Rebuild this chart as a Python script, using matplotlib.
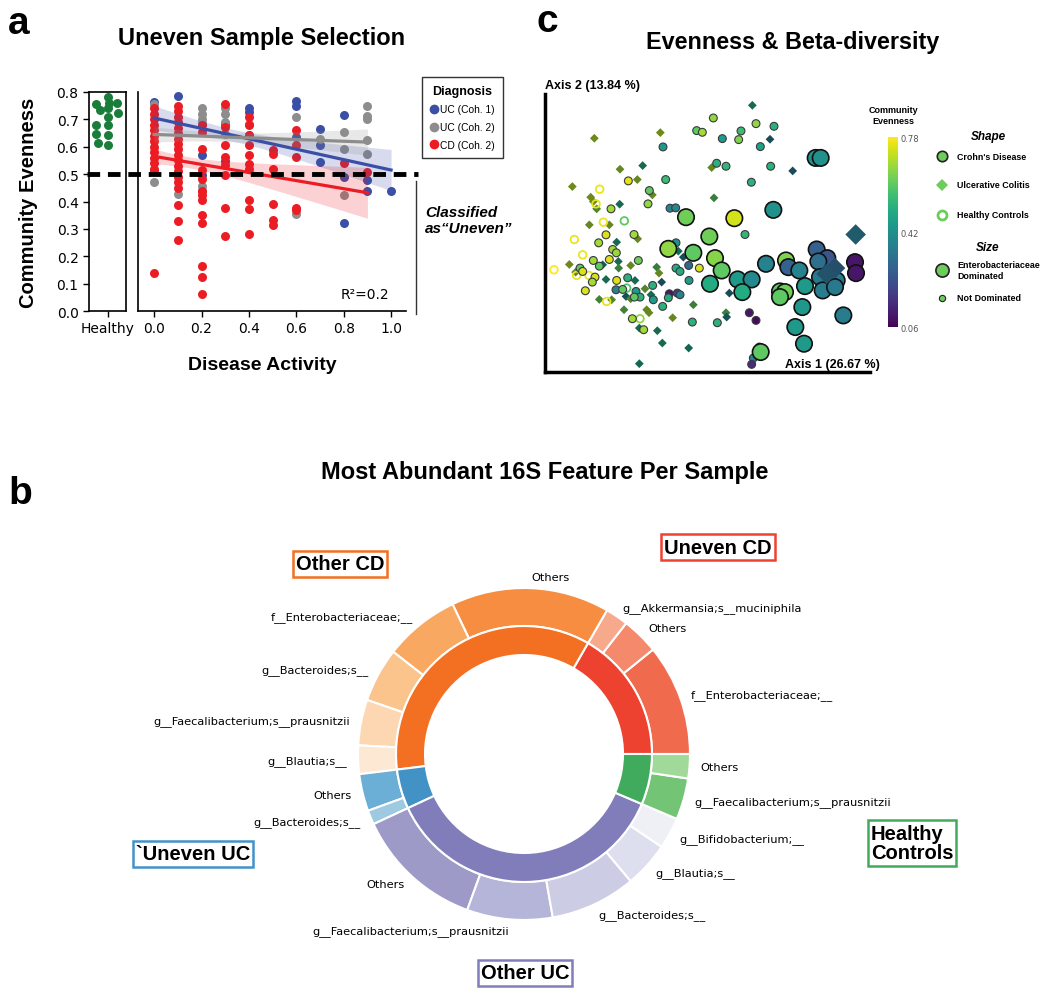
import numpy as np
import matplotlib
matplotlib.use('Agg')
import matplotlib.pyplot as plt
from matplotlib.lines import Line2D
from matplotlib.colors import Normalize
import matplotlib.cm as cm

# ---------------- panel a data ----------------
uc1_da = [0.0, 0.1, 0.2, 0.2, 0.3, 0.3, 0.4, 0.4, 0.6, 0.6, 0.6, 0.7, 0.7, 0.7, 0.8, 0.8, 0.8, 0.9, 0.9, 1.0]
uc1_even = [0.765, 0.785, 0.571, 0.496, 0.684, 0.548, 0.742, 0.727, 0.766, 0.749, 0.636, 0.666, 0.605, 0.544,
            0.715, 0.489, 0.323, 0.477, 0.437, 0.437]
uc2_da = [0.0, 0.0, 0.1, 0.2, 0.2, 0.2, 0.2, 0.2, 0.2, 0.3, 0.3, 0.3, 0.3, 0.4, 0.4, 0.6, 0.6, 0.7,
          0.8, 0.8, 0.8, 0.9, 0.9, 0.9, 0.9, 0.9]
uc2_even = [0.757, 0.47, 0.428, 0.742, 0.72, 0.70, 0.685, 0.455, 0.44, 0.74, 0.72, 0.69, 0.648, 0.684, 0.644,
            0.709, 0.356, 0.63, 0.654, 0.593, 0.423, 0.749, 0.712, 0.703, 0.623, 0.575]
cd2_da = [0.0] * 14 + [0.1] * 19 + [0.2] * 13 + [0.3] * 8 + [0.4] * 10 + [0.5] * 6 + [0.6] * 5 + [0.8, 0.9]
cd2_even = [0.74, 0.72, 0.70, 0.68, 0.66, 0.64, 0.62, 0.60, 0.58, 0.56, 0.54, 0.52, 0.51, 0.14,
            0.75, 0.73, 0.71, 0.69, 0.67, 0.65, 0.63, 0.61, 0.59, 0.57, 0.55, 0.53, 0.51, 0.49, 0.47, 0.45,
            0.386, 0.328, 0.258,
            0.678, 0.654, 0.593, 0.514, 0.483, 0.44, 0.425, 0.404, 0.352, 0.321, 0.163, 0.124, 0.063,
            0.757, 0.672, 0.605, 0.562, 0.532, 0.496, 0.376, 0.274,
            0.709, 0.678, 0.642, 0.605, 0.569, 0.538, 0.52, 0.404, 0.371, 0.281,
            0.587, 0.575, 0.52, 0.39, 0.331, 0.313,
            0.662, 0.605, 0.561, 0.376, 0.368,
            0.541, 0.508]
healthy_jitter = [-0.3, 0.02, 0.26, 0.29, -0.2, 0.0, 0.0, -0.3, 0.02, -0.32, 0.0, -0.25, 0.0, 0.05]
healthy_even = [0.757, 0.78, 0.76, 0.725, 0.733, 0.74, 0.71, 0.681, 0.678, 0.648, 0.644, 0.614, 0.605, 0.76]

# regression fits (value at DA=0, value at last DA, CI half widths)
fit_names = ['UC (Coh. 1)', 'UC (Coh. 2)', 'CD (Coh. 2)']
fit_start = [0.705, 0.645, 0.565]
fit_stop = [0.515, 0.617, 0.432]
fit_xmax = [1.0, 0.9, 0.9]
ci_min = [0.022, 0.016, 0.02]
ci_xmin = [0.35, 0.3, 0.15]
ci_end = [0.075, 0.048, 0.093]

# ---------------- panel c data ----------------
cd_small_pc1 = [0.038, 0.055, -0.063, -0.167, -0.055, -0.104, -0.219, -0.108, -0.042, -0.025, -0.234, -0.15,
                0.088, 0.216, 0.27, 0.171, 0.115, 0.164, 0.229, 0.098, 0.126, 0.26, 0.202, 0.183, -0.256,
                -0.214, -0.203, -0.024, -0.272, -0.224, -0.137, -0.312, -0.304, -0.254, -0.024, -0.012, 0.014,
                0.046, -0.267, -0.275, -0.202, -0.169, 0.015, -0.296, -0.204, -0.184, -0.144, -0.132, -0.149,
                -0.094, -0.092, -0.044, -0.02, -0.047, -0.012, -0.064, -0.155, 0.025, -0.121, 0.1, 0.196, 0.216,
                0.226, 0.236, 0.208, 0.203]
cd_small_pc2 = [0.307, 0.302, 0.258, 0.156, 0.16, 0.127, 0.072, 0.087, 0.074, 0.075, -0.006, -0.005, 0.345,
                0.328, 0.32, 0.306, 0.283, 0.28, 0.259, 0.209, 0.2, 0.2, 0.152, -0.005, -0.03, -0.05, -0.06,
                -0.03, -0.083, -0.08, -0.083, -0.106, -0.116, -0.1, -0.106, -0.116, -0.098, -0.106, -0.133,
                -0.148, -0.143, -0.135, -0.143, -0.174, -0.171, -0.17, -0.176, -0.193, -0.193, -0.158, -0.201,
                -0.183, -0.181, -0.195, -0.186, -0.221, -0.258, -0.268, -0.291, -0.27, -0.24, -0.263, -0.343,
                -0.356, -0.376, -0.395]
cd_small_even = [0.6, 0.68, 0.45, 0.75, 0.55, 0.6, 0.68, 0.66, 0.38, 0.4, 0.74, 0.68, 0.66, 0.66, 0.52, 0.55,
                 0.45, 0.64, 0.47, 0.52, 0.53, 0.52, 0.52, 0.53, 0.68, 0.68, 0.67, 0.42, 0.68, 0.74, 0.62, 0.6,
                 0.74, 0.6, 0.5, 0.5, 0.3, 0.74, 0.73, 0.68, 0.74, 0.52, 0.45, 0.74, 0.38, 0.6, 0.45, 0.52, 0.6,
                 0.52, 0.45, 0.1, 0.2, 0.5, 0.38, 0.52, 0.68, 0.52, 0.68, 0.52, 0.1, 0.08, 0.52, 0.3, 0.38, 0.15]
cd_big_pc1 = [0.006, 0.395, 0.41, 0.268, 0.151, 0.076, -0.047, 0.028, 0.078, 0.093, 0.113, 0.161, 0.203, 0.175,
              0.246, 0.306, 0.313, 0.346, 0.288, 0.303, 0.288, 0.363, 0.355, 0.334, 0.36, 0.398, 0.43, 0.403,
              0.408, 0.458, 0.416, 0.453, 0.513, 0.516, 0.478, 0.23]
cd_big_pc2 = [0.047, 0.225, 0.225, 0.069, 0.044, -0.011, -0.048, -0.06, -0.153, -0.076, -0.113, -0.14, -0.14,
              -0.178, -0.093, -0.083, -0.103, -0.113, -0.176, -0.178, -0.193, -0.16, -0.223, -0.283, -0.333,
              -0.05, -0.076, -0.086, -0.133, -0.143, -0.173, -0.163, -0.088, -0.121, -0.248, -0.358]
cd_big_even = [0.62, 0.42, 0.42, 0.42, 0.73, 0.62, 0.66, 0.6, 0.5, 0.65, 0.6, 0.45, 0.4, 0.5, 0.38, 0.64, 0.28,
               0.38, 0.6, 0.62, 0.6, 0.45, 0.44, 0.45, 0.45, 0.28, 0.25, 0.32, 0.35, 0.35, 0.36, 0.35, 0.1, 0.1,
               0.36, 0.6]
uc_small_pc1 = [-0.269, -0.071, -0.192, -0.124, -0.14, -0.335, -0.095, -0.28, -0.272, -0.262, -0.193, -0.284,
                -0.224, 0.205, 0.258, 0.083, 0.326, 0.09, -0.139, -0.202, -0.017, -0.002, -0.197, -0.344,
                -0.325, -0.244, -0.196, -0.16, -0.082, -0.075, -0.234, -0.147, -0.067, -0.117, -0.174, -0.16,
                -0.099, -0.254, -0.217, 0.028, -0.18, -0.112, -0.105, -0.034, -0.134, -0.08, -0.065, 0.014,
                -0.134, 0.136, 0.126, 0.128]
uc_small_pc2 = [0.284, 0.301, 0.191, 0.202, 0.16, 0.139, 0.114, 0.107, 0.094, 0.072, 0.086, 0.024, 0.024, 0.383,
                0.281, 0.196, 0.186, 0.105, -0.018, -0.028, -0.055, -0.073, -0.086, -0.095, -0.118, -0.096,
                -0.106, -0.098, -0.103, -0.121, -0.14, -0.143, -0.148, -0.168, -0.191, -0.198, -0.186, -0.2,
                -0.201, -0.216, -0.231, -0.231, -0.24, -0.255, -0.286, -0.294, -0.331, -0.346, -0.393, -0.181,
                -0.24, -0.253]
uc_small_even = [0.7, 0.7, 0.68, 0.5, 0.68, 0.7, 0.68, 0.7, 0.7, 0.65, 0.5, 0.68, 0.68, 0.5, 0.35, 0.68, 0.35,
                 0.6, 0.68, 0.5, 0.5, 0.35, 0.5, 0.7, 0.68, 0.45, 0.6, 0.68, 0.6, 0.68, 0.5, 0.5, 0.35, 0.65,
                 0.38, 0.65, 0.5, 0.62, 0.65, 0.6, 0.62, 0.68, 0.68, 0.68, 0.5, 0.5, 0.5, 0.48, 0.48, 0.35, 0.6,
                 0.38]
uc_big_pc1 = [0.515, 0.453, 0.428]
uc_big_pc2 = [-0.005, -0.106, -0.123]
uc_big_even = [0.35, 0.3, 0.32]
hc_pc1 = [-0.253, -0.264, -0.242, -0.179, -0.329, -0.304, -0.39, -0.322, -0.285, -0.172, -0.232, -0.132]
hc_pc2 = [0.131, 0.087, 0.032, 0.036, -0.02, -0.066, -0.111, -0.128, -0.128, -0.166, -0.206, -0.258]
hc_even = [0.76, 0.75, 0.76, 0.6, 0.76, 0.76, 0.78, 0.76, 0.76, 0.58, 0.75, 0.66]

# ---------------- panel b data ----------------
group_names = ['Uneven CD', 'Other CD', '`Uneven UC', 'Other UC', 'Healthy\nControls']
group_sizes = [60, 127, 18, 132, 23]
group_colors = ['#ee4231', '#f36f21', '#4292c6', '#807dba', '#41ab5d']
feature_labels = ['f__Enterobacteriaceae;__', 'Others', 'g__Akkermansia;s__muciniphila',
                  'Others', 'f__Enterobacteriaceae;__', 'g__Bacteroides;s__',
                  'g__Faecalibacterium;s__prausnitzii', 'g__Blautia;s__',
                  'Others', 'g__Bacteroides;s__',
                  'Others', 'g__Faecalibacterium;s__prausnitzii', 'g__Bacteroides;s__', 'g__Blautia;s__',
                  'g__Bifidobacterium;__',
                  'g__Faecalibacterium;s__prausnitzii', 'Others']
feature_sizes = [39, 13, 8,
                 55.5, 26.5, 19, 16, 10,
                 13, 5,
                 45, 30, 30, 16, 11,
                 14.5, 8.5]
feature_colors = ['#f06a4d', '#f4896c', '#f7a98c',
                  '#f68d40', '#f9a862', '#fbc48c', '#fdd7b1', '#fde8d4',
                  '#6baed6', '#9ecae1',
                  '#9e9ac8', '#b5b4d9', '#cccce4', '#dedfee', '#efeff6',
                  '#74c476', '#a1d99b']

W, H = 1050, 995
fig = plt.figure(figsize=(10.5, 9.95), dpi=100)
plt.rcParams['font.family'] = 'DejaVu Sans'
ARIAL = 'Liberation Sans'


def px_axes(left, top, right, bottom):
    return fig.add_axes([left / W, 1 - bottom / H, (right - left) / W, (bottom - top) / H])


def ftext(x, y, s, **kw):
    return fig.text(x / W, 1 - y / H, s, **kw)


# ================= panel a =================
BLUE, GRAY, RED, GREEN = '#3a4fa5', '#8d8d8d', '#ec1c24', '#1a7e3a'

axh = px_axes(89, 93, 126, 312)
axh.scatter(healthy_jitter, healthy_even, s=42, color=GREEN, lw=0, clip_on=False, zorder=3)
axh.set_xlim(-0.5, 0.5)
axh.set_ylim(0, 0.8)
axh.set_xticks([0])
axh.set_xticklabels(['Healthy'])
yt = np.round(np.arange(0, 0.81, 0.1), 1)
axh.set_yticks(yt)
axh.set_yticklabels(['%.1f' % v for v in yt])
axh.tick_params(labelsize=10, length=4, width=1)
for sp in axh.spines.values():
    sp.set_linewidth(1.2)
axh.set_ylabel('Community Evenness', fontsize=14.5, fontweight='bold', family=ARIAL)
axh.yaxis.set_label_coords(-(89 - 38) / 37, 0.5)

axm = px_axes(138, 93, 406, 312)
axm.scatter(uc1_da, uc1_even, s=42, color=BLUE, lw=0, clip_on=False, zorder=3)
axm.scatter(uc2_da, uc2_even, s=42, color=GRAY, lw=0, clip_on=False, zorder=3)
axm.scatter(cd2_da, cd2_even, s=42, color=RED, lw=0, clip_on=False, zorder=3)
for name, c, y0, y1, xm, hmin, hx, hend in zip(fit_names, [BLUE, GRAY, RED], fit_start, fit_stop, fit_xmax,
                                               ci_min, ci_xmin, ci_end):
    xs = np.linspace(0, xm, 60)
    ys = y0 + (y1 - y0) * xs / xm
    k = (hend ** 2 - hmin ** 2) / (xm - hx) ** 2
    hw = np.sqrt(hmin ** 2 + k * (xs - hx) ** 2)
    axm.fill_between(xs, ys - hw, ys + hw, color=c, alpha=0.2, lw=0, zorder=4)
    axm.plot(xs, ys, color=c, lw=2.3, zorder=5)
axm.set_xlim(-0.068, 1.063)
axm.set_ylim(0, 0.8)
axm.set_yticks([])
axm.set_xticks(np.round(np.arange(0, 1.01, 0.2), 1))
axm.set_xticklabels(['%.1f' % v for v in np.arange(0, 1.01, 0.2)])
axm.tick_params(labelsize=10, length=4, width=1)
for s in ['top', 'right']:
    axm.spines[s].set_visible(False)
for s in ['left', 'bottom']:
    axm.spines[s].set_linewidth(1.2)
axm.set_xlabel('Disease Activity', fontsize=14, fontweight='bold', family=ARIAL)
axm.xaxis.set_label_coords(0.463, -0.205)
axm.axhline(0.5, xmin=-0.19, xmax=1.045, color='black', lw=3.5, ls=(0, (2.6, 1.6)), clip_on=False, zorder=6)
axm.plot([1.037, 1.037], [0.475, -0.01], transform=axm.get_yaxis_transform(), color='#333333', lw=1,
         clip_on=False)
axm.text(0.847, 0.062, 'R²=0.2', transform=axm.get_yaxis_transform(), ha='center', va='center', fontsize=10)
ftext(425, 221, 'Classified\nas“Uneven”', ha='left', va='center', fontsize=11, fontweight='bold',
      fontstyle='italic', family=ARIAL, linespacing=1.2)

handles = [Line2D([], [], ls='', marker='o', ms=6, mfc=c, mec=c) for c in [BLUE, GRAY, RED]]
leg = fig.legend(handles, fit_names, loc='upper left', bbox_to_anchor=(422 / W, 1 - 78 / H), frameon=True,
                 fancybox=False, edgecolor='black', title='Diagnosis', handletextpad=0.15, borderaxespad=0,
                 handlelength=0.9, borderpad=0.75, labelspacing=0.75, prop={'family': ARIAL, 'size': 7.4})
leg.get_title().set_fontweight('bold')
leg.get_title().set_fontfamily(ARIAL)
leg.get_title().set_fontsize(9)
leg.get_frame().set_linewidth(1.0)

ftext(8, 6, 'a', fontsize=28, fontweight='bold', family=ARIAL, va='top', ha='left')
ftext(262, 38, 'Uneven Sample Selection', fontsize=17, fontweight='bold', family=ARIAL, ha='center',
      va='center')

# ================= panel c =================
norm = Normalize(0.06, 0.78)
cmap = plt.get_cmap('viridis')


def dark(vals, f=0.62):
    cols = cmap(norm(np.array(vals)))
    cols[:, :3] *= f
    return cols


axc = px_axes(545, 95, 870, 373)
axc.scatter(uc_small_pc1, uc_small_pc2, s=20, marker='D', c=dark(uc_small_even), lw=0, zorder=2)
axc.scatter(hc_pc1, hc_pc2, s=30, marker='o', facecolors='none', edgecolors=cmap(norm(np.array(hc_even))),
            lw=1.3, zorder=3)
axc.scatter(cd_small_pc1, cd_small_pc2, s=32, marker='o', c=cd_small_even, cmap=cmap, norm=norm,
            edgecolors='#3a3a3a', lw=0.8, zorder=3)
axc.scatter(cd_big_pc1, cd_big_pc2, s=140, marker='o', c=cd_big_even, cmap=cmap, norm=norm,
            edgecolors='#111111', lw=1.2, zorder=4)
axc.scatter(uc_big_pc1, uc_big_pc2, s=110, marker='D', c=dark(uc_big_even, 0.75), lw=0, zorder=5)
axc.set_xlim(-0.417, 0.558)
axc.set_ylim(-0.418, 0.417)
axc.set_xticks([])
axc.set_yticks([])
for s in ['top', 'right']:
    axc.spines[s].set_visible(False)
for s in ['left', 'bottom']:
    axc.spines[s].set_linewidth(2.5)
axc.text(0, 1.012, 'Axis 2 (13.84 %)', transform=axc.transAxes, ha='left', va='bottom', fontsize=9,
         fontweight='bold', family=ARIAL)
axc.text(1.03, 0.03, 'Axis 1 (26.67 %)', transform=axc.transAxes, ha='right', va='center', fontsize=9,
         fontweight='bold', family=ARIAL)

cax = px_axes(888, 138, 898, 328)
cb = fig.colorbar(cm.ScalarMappable(norm=norm, cmap=cmap), cax=cax, ticks=[0.06, 0.42, 0.78])
cb.outline.set_visible(False)
cb.ax.tick_params(labelsize=6, length=0, colors='#555555', pad=2)
cb.ax.set_yticklabels(['0.06', '0.42', '0.78'])
ftext(893, 116, 'Community\nEvenness', ha='center', va='center', fontsize=6.5, fontweight='bold', family=ARIAL)

# legend for shape / size drawn in its own pixel-space axes
LEG_GREEN = '#6ccd5a'
lax = px_axes(920, 120, 1050, 320)
lax.set_xlim(920, 1050)
lax.set_ylim(320, 120)
lax.axis('off')
lax.text(988, 137, 'Shape', ha='center', va='center', fontsize=8.5, fontweight='bold', fontstyle='italic',
         family=ARIAL)
lax.text(988, 248, 'Size', ha='center', va='center', fontsize=8.5, fontweight='bold', fontstyle='italic',
         family=ARIAL)
legend_rows = [(157, "Crohn's Disease", dict(marker='o', ms=7.5, mfc=LEG_GREEN, mec='#222222', mew=1.2)),
               (186, 'Ulcerative Colitis', dict(marker='D', ms=6.5, mfc=LEG_GREEN, mec=LEG_GREEN, mew=0)),
               (216, 'Healthy Controls', dict(marker='o', ms=6.5, mfc='white', mec=LEG_GREEN, mew=2)),
               (271, 'Enterobacteriaceae\nDominated', dict(marker='o', ms=9.5, mfc=LEG_GREEN, mec='#222222',
                                                           mew=1.2)),
               (299, 'Not Dominated', dict(marker='o', ms=4.5, mfc=LEG_GREEN, mec='#222222', mew=0.8))]
for y, lab, mk in legend_rows:
    lax.plot([942], [y], ls='', clip_on=False, **mk)
    lax.text(957, y, lab, ha='left', va='center', fontsize=6.4, fontweight='bold', family=ARIAL,
             linespacing=1.15)

ftext(536, 4, 'c', fontsize=28, fontweight='bold', family=ARIAL, va='top', ha='left')
ftext(793, 42, 'Evenness & Beta-diversity', fontsize=16.8, fontweight='bold', family=ARIAL, ha='center',
      va='center')

# ================= panel b =================
axd = px_axes(324, 555, 724, 955)
r_out = 1.0
r_mid = 128 / 166
r_in = 99 / 166
axd.pie(feature_sizes, radius=r_out, labels=feature_labels, labeldistance=1.065, colors=feature_colors,
        startangle=0, counterclock=True,
        wedgeprops=dict(width=r_out - r_mid, edgecolor='white', linewidth=1.5),
        textprops=dict(fontsize=8.2))
axd.pie(group_sizes, radius=r_mid, colors=group_colors, startangle=0, counterclock=True,
        wedgeprops=dict(width=r_mid - r_in, edgecolor='white', linewidth=1.5))
axd.set_xlim(-1.205, 1.205)
axd.set_ylim(-1.205, 1.205)
axd.set_aspect('equal')
axd.axis('off')

box_pos = [(718, 548), (340, 565), (193, 855), (525, 974), (912, 844)]
for name, col, (x, y) in zip(group_names, group_colors, box_pos):
    ftext(x, y, name, ha='center', va='center', multialignment='left', fontsize=14.5, fontweight='bold',
          family=ARIAL, linespacing=1.05,
          bbox=dict(boxstyle='square,pad=0.16', fc='white', ec=col, lw=1.8))

ftext(8, 476, 'b', fontsize=28, fontweight='bold', family=ARIAL, va='top', ha='left')
ftext(545, 473, 'Most Abundant 16S Feature Per Sample', fontsize=17, fontweight='bold', family=ARIAL,
      ha='center', va='center')

fig.savefig('out.png', dpi=100)
